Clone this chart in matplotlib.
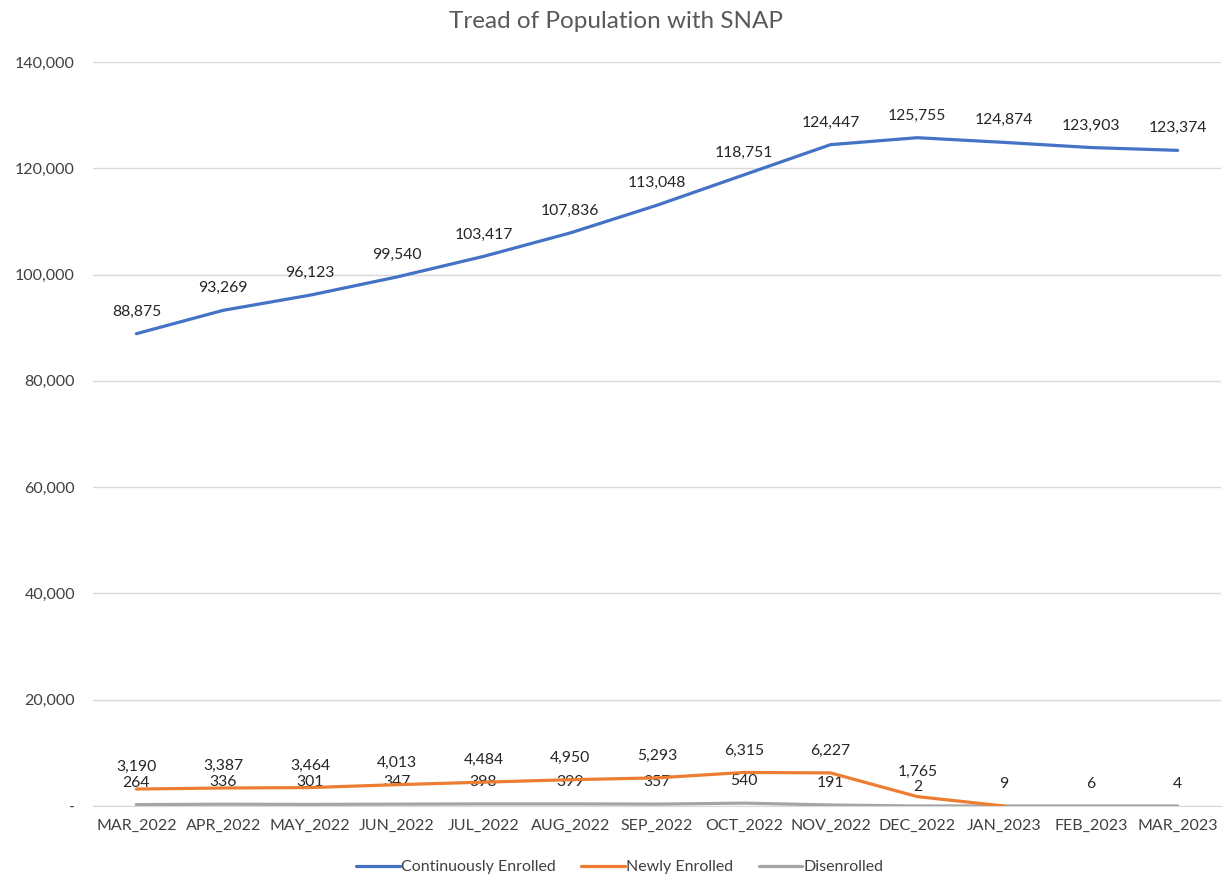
import numpy as np
import matplotlib
matplotlib.use("Agg")
import matplotlib.pyplot as plt
from matplotlib.ticker import FuncFormatter

months = ["MAR_2022", "APR_2022", "MAY_2022", "JUN_2022", "JUL_2022", "AUG_2022",
          "SEP_2022", "OCT_2022", "NOV_2022", "DEC_2022", "JAN_2023", "FEB_2023", "MAR_2023"]
continuous = [88875, 93269, 96123, 99540, 103417, 107836, 113048, 118751, 124447,
              125755, 124874, 123903, 123374]
newly = [3190, 3387, 3464, 4013, 4484, 4950, 5293, 6315, 6227, 1765, 0, np.nan, np.nan]
disenrolled = [264, 336, 301, 347, 398, 399, 357, 540, 191, 2, 9, 6, 4]

plt.rcParams['font.family'] = ['Lato', 'DejaVu Sans']

fig = plt.figure(figsize=(12.32, 8.77), dpi=100)
ax = fig.add_axes([93/1232, 1 - 806/877, (1221-93)/1232, (806-62)/877])

x = np.arange(len(months))
lw = 3.2 * 72 / 100
ax.plot(x, disenrolled, color='#A5A5A5', lw=lw, solid_capstyle='round', zorder=3, label='Disenrolled')
ax.plot(x, newly, color='#ED7D31', lw=lw, solid_capstyle='round', zorder=4, label='Newly Enrolled')
ax.plot(x, continuous, color='#4472C4', lw=lw, solid_capstyle='round', zorder=5, label='Continuously Enrolled')

lab_kw = dict(ha='center', va='center', fontsize=11.3, color='#262626', textcoords='offset points')
px = 72 / 100
for i, v in enumerate(continuous):
    ax.annotate(f"{v:,}", (i, v), xytext=(0, 22 * px), **lab_kw)
for i, v in enumerate(newly):
    if np.isnan(v) or v == 0:
        continue
    dy = 25 if i == 9 else 22
    ax.annotate(f"{int(v):,}", (i, v), xytext=(0, dy * px), **lab_kw)
for i, v in enumerate(disenrolled):
    dy = 19 if i == 9 else 22
    ax.annotate(f"{v:,}", (i, v), xytext=(0, dy * px), **lab_kw)

ax.set_xlim(-0.5, len(months) - 0.5)
ax.set_ylim(0, 140000)
ax.set_yticks(np.arange(0, 140001, 20000))
ax.yaxis.set_major_formatter(FuncFormatter(lambda v, p: '-' if v == 0 else f"{int(v):,}"))
ax.set_xticks(x)
ax.set_xticklabels(months)
ax.grid(axis='y', color='#D9D9D9', lw=1)
ax.set_axisbelow(True)
for s in ['top', 'right', 'left']:
    ax.spines[s].set_visible(False)
ax.spines['bottom'].set_color('#D9D9D9')
ax.tick_params(axis='both', length=0, labelsize=11.5, colors='#404040')
ax.tick_params(axis='y', pad=13)
ax.tick_params(axis='x', pad=9)

fig.text(0.5, 1 - 21/877, "Tread of Population with SNAP", fontsize=17.5,
         color='#595959', ha='center', va='center')

h, l = ax.get_legend_handles_labels()
order = [2, 1, 0]
fig.legend([h[i] for i in order], [l[i] for i in order], loc='center',
           bbox_to_anchor=(620/1232, 1 - 867/877), ncol=3, frameon=False,
           fontsize=11.5, handlelength=2.7, handletextpad=0.1, columnspacing=1.6,
           labelcolor='#404040')

fig.savefig("out.png", dpi=100)
